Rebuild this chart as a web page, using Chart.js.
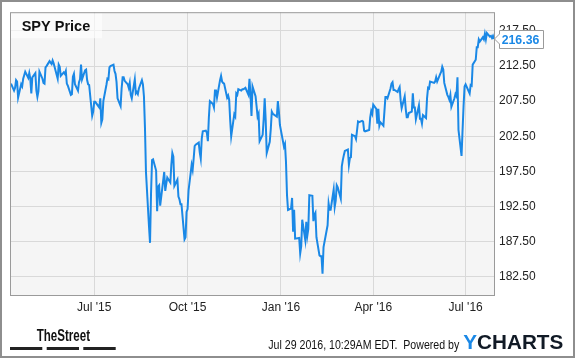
<!DOCTYPE html>
<html><head><meta charset="utf-8">
<script src="https://cdn.jsdelivr.net/npm/chart.js@4/dist/chart.umd.min.js"></script>
<style>html,body{margin:0;padding:0;background:#fff;}#wrap{width:575px;height:358px;position:relative;}canvas{display:block;}</style>
</head><body><div id="wrap"><canvas id="c" width="575" height="358"></canvas></div>
<script>
// ---------- data ----------
const chartTitle = 'SPY Price';
const months = ['2015-04','2015-05','2015-06','2015-07','2015-08','2015-09','2015-10','2015-11','2015-12',
                '2016-01','2016-02','2016-03','2016-04','2016-05','2016-06','2016-07'];
const tradingDays = [
  [10,13,14,15,16,17,20,21,22,23,24,27,28,29,30],
  [1,4,5,6,7,8,11,12,13,14,15,18,19,20,21,22,26,27,28,29],
  [1,2,3,4,5,8,9,10,11,12,15,16,17,18,19,22,23,24,25,26,29,30],
  [1,2,6,7,8,9,10,13,14,15,16,17,20,21,22,23,24,27,28,29,30,31],
  [3,4,5,6,7,10,11,12,13,14,17,18,19,20,21,24,25,26,27,28,31],
  [1,2,3,4,8,9,10,11,14,15,16,17,18,21,22,23,24,25,28,29,30],
  [1,2,5,6,7,8,9,12,13,14,15,16,19,20,21,22,23,26,27,28,29,30],
  [2,3,4,5,6,9,10,11,12,13,16,17,18,19,20,23,24,25,27,30],
  [1,2,3,4,7,8,9,10,11,14,15,16,17,18,21,22,23,24,28,29,30,31],
  [4,5,6,7,8,11,12,13,14,15,19,20,21,22,25,26,27,28,29],
  [1,2,3,4,5,8,9,10,11,12,16,17,18,19,22,23,24,25,26,29],
  [1,2,3,4,7,8,9,10,11,14,15,16,17,18,21,22,23,24,28,29,30,31],
  [1,4,5,6,7,8,11,12,13,14,15,18,19,20,21,22,25,26,27,28,29],
  [2,3,4,5,6,9,10,11,12,13,16,17,18,19,20,23,24,25,26,27,31],
  [1,2,3,6,7,8,9,10,13,14,15,16,17,20,21,22,23,24,27,28,29,30],
  [1,5,6,7,8,11,12,13,14,15,18,19,20,21,22,25,26,27,28,29]
];
const closes = [
  [210.0,209.0,209.4,210.5,210.3,208.0,209.9,209.6,210.7,211.2,211.7,210.8,211.5,210.7,208.6],
  [210.9,211.5,209.0,208.1,208.9,211.7,210.7,210.1,210.0,212.3,212.5,213.2,213.0,212.8,213.3,212.9,210.7,212.7,212.4,211.1],
  [211.6,211.4,211.8,210.0,209.7,208.4,208.5,211.0,211.4,209.9,209.0,210.2,210.6,212.7,210.6,211.9,212.0,210.5,209.9,209.8,205.4,206.0],
  [207.4,207.4,206.6,207.9,204.4,204.9,207.5,209.8,210.7,210.6,212.3,212.5,212.7,211.8,211.4,210.2,207.9,206.8,209.3,210.9,210.9,210.4],
  [209.9,209.4,210.1,208.4,207.9,210.6,208.6,208.8,208.5,209.3,210.5,209.9,208.2,203.8,197.4,189.6,187.3,194.4,199.1,199.2,197.6],
  [191.8,195.3,195.5,192.6,197.4,194.7,195.7,196.6,195.9,198.4,200.1,199.6,195.4,196.3,193.9,193.5,192.8,192.8,187.8,188.1,191.7],
  [192.1,194.8,198.4,197.7,199.3,201.1,201.3,201.6,200.2,199.3,202.2,203.2,203.3,203.0,201.8,205.2,207.5,207.1,206.6,209.0,209.0,208.0],
  [210.5,211.1,210.3,210.1,210.0,208.0,208.3,207.7,204.8,202.5,205.6,205.3,208.6,208.4,209.2,209.0,209.2,209.2,209.4,208.4],
  [210.7,208.4,205.4,209.6,208.2,206.8,205.3,205.7,201.8,202.7,204.9,207.9,204.8,200.1,201.7,203.5,206.0,205.7,205.3,207.5,206.0,204.1],
  [201.0,201.4,198.8,194.1,192.0,192.2,193.7,188.9,192.0,187.9,188.0,185.8,186.8,190.6,187.7,190.3,188.3,189.3,194.1],
  [194.0,190.4,191.3,191.6,188.1,185.5,185.4,185.4,182.9,186.7,189.8,192.9,192.0,192.0,194.9,192.4,193.3,195.5,195.2,193.6],
  [198.2,199.1,199.8,200.4,200.6,198.4,199.4,199.5,202.7,202.5,202.1,203.3,204.6,204.5,204.7,204.6,203.3,203.2,203.4,205.2,206.1,205.7],
  [207.0,206.4,204.3,206.4,204.0,204.5,204.0,206.0,208.1,208.1,207.9,209.3,210.0,210.2,209.1,209.1,208.8,209.2,209.5,207.6,206.5],
  [208.2,206.4,205.2,205.2,205.8,206.0,208.6,206.6,206.6,204.9,206.9,205.0,205.0,204.3,205.5,205.1,207.9,209.4,209.3,210.3,210.1],
  [210.3,210.9,210.3,211.4,211.7,212.4,212.0,210.1,208.4,208.1,207.7,208.4,206.7,207.9,208.5,208.2,210.9,203.4,199.7,203.3,206.8,209.6],
  [209.9,208.6,209.8,209.7,212.7,213.4,215.2,215.2,216.3,216.0,216.6,216.3,217.1,216.3,217.2,216.7,216.8,216.5,216.8,216.36]
];
const xTickDates = ['2015-07-01','2015-10-01','2016-01-01','2016-04-01','2016-07-01'];
const xTickLabels = ["Jul '15","Oct '15","Jan '16","Apr '16","Jul '16"];
const yTickValues = [182.5,187.5,192.5,197.5,202.5,207.5,212.5,217.5];
const lastValueLabel = '216.36';
const stampText = 'Jul 29 2016, 10:29AM EDT.  Powered by';
const brandLeft = 'TheStreet';
const brandRightA = 'Y';
const brandRightB = 'CHARTS';

// ---------- build ----------
const DAY0 = Date.UTC(2015,3,10);
function dayIndex(s){const p=s.split('-').map(Number);return (Date.UTC(p[0],p[1]-1,p[2])-DAY0)/86400000;}
const points=[];
months.forEach((mo,i)=>{tradingDays[i].forEach((d,j)=>{points.push({x:dayIndex(mo+'-'+String(d).padStart(2,'0')),y:closes[i][j]});});});
const xTickPos = xTickDates.map(dayIndex);
const BLUE = '#1a88e6';
const FONT = '"Liberation Sans", Arial, Helvetica, sans-serif';

function fitText(ctx, txt, x, y, w){
  const m = ctx.measureText(txt).width; const s = w/m;
  ctx.save(); ctx.translate(x,y); ctx.scale(s,1); ctx.fillText(txt,0,0); ctx.restore();
}

const deco = {
  id:'deco',
  beforeDraw(chart){
    const {ctx, chartArea:a} = chart;
    ctx.save();
    ctx.fillStyle='#fff'; ctx.fillRect(0,0,chart.width,chart.height);
    ctx.fillStyle='#f5f5f5'; ctx.fillRect(a.left,a.top,a.right-a.left,a.bottom-a.top);
    ctx.restore();
  },
  beforeDatasetsDraw(chart){
    const {ctx, chartArea:a} = chart;
    ctx.save();
    ctx.fillStyle='rgba(255,255,255,0.6)';
    ctx.fillRect(a.left+1,a.top+1,91,25);
    ctx.fillStyle='#111'; ctx.font='bold 14.5px '+FONT; ctx.textBaseline='alphabetic';
    ctx.fillText(chartTitle, a.left+11.7, a.top+18.7);
    ctx.restore();
  },
  afterDatasetsDraw(chart){
    const {ctx, chartArea:a} = chart;
    ctx.save();
    ctx.strokeStyle='#9a9a9a'; ctx.lineWidth=1;
    ctx.strokeRect(a.left+0.5,a.top+0.5,a.right-a.left,a.bottom-a.top-1);
    ctx.restore();
  },
  afterDraw(chart){
    const {ctx, chartArea:a} = chart;
    const ys = chart.scales.y;
    const last = points[points.length-1];
    const py = ys.getPixelForValue(last.y);
    ctx.save();
    // value flag
    const bx=499.5, bw=44, bh=18, by=Math.round(py-bh/2)+0.5;
    ctx.beginPath();
    ctx.moveTo(a.right+0.5,py); ctx.lineTo(bx,py-5); ctx.lineTo(bx,by); ctx.lineTo(bx+bw,by);
    ctx.lineTo(bx+bw,by+bh); ctx.lineTo(bx,by+bh); ctx.lineTo(bx,py+5); ctx.closePath();
    ctx.fillStyle='#fff'; ctx.fill(); ctx.strokeStyle='#9a9a9a'; ctx.lineWidth=1; ctx.stroke();
    ctx.fillStyle=BLUE; ctx.font='bold 13px '+FONT; ctx.textBaseline='alphabetic';
    fitText(ctx, lastValueLabel, bx+2.2, by+13.8, 37.6);
    // footer left
    ctx.fillStyle='#111'; ctx.font='bold 16.8px '+FONT;
    fitText(ctx, brandLeft, 36.7, 341, 53.3);
    ctx.fillStyle='#222';
    ctx.fillRect(10,347,32.3,3); ctx.fillRect(46.7,347,32.3,3); ctx.fillRect(83.3,347,32.4,3);
    // footer right
    ctx.fillStyle='#111'; ctx.font='12.8px '+FONT;
    fitText(ctx, stampText, 268.3, 349.3, 191);
    ctx.font='bold 19.5px '+FONT;
    const wA = ctx.measureText(brandRightA).width, wB = ctx.measureText(brandRightB).width;
    const s = 100/(wA+wB);
    ctx.fillStyle=BLUE; fitText(ctx, brandRightA, 463.3, 349.3, wA*s);
    ctx.fillStyle='#111a26'; fitText(ctx, brandRightB, 463.3+wA*s, 349.3, wB*s);
    // outer border
    ctx.strokeStyle='#8e8e8e'; ctx.lineWidth=2;
    ctx.strokeRect(1,1,chart.width-2,chart.height-2);
    ctx.restore();
  }
};

new Chart(document.getElementById('c'), {
  type:'line',
  data:{datasets:[{data:points,borderColor:BLUE,borderWidth:2,pointRadius:0,tension:0,fill:false}]},
  options:{
    responsive:false, animation:false, devicePixelRatio:1,
    layout:{padding:{left:10,top:10,right:0,bottom:0}},
    plugins:{legend:{display:false},tooltip:{enabled:false},title:{display:false}},
    scales:{
      x:{type:'linear',min:-1,max:476,
        afterFit(s){s.height=62;},
        afterBuildTicks(s){s.ticks=xTickPos.map(v=>({value:v}));},
        grid:{color:'#d9d9d9',drawTicks:false,lineWidth:1},
        border:{display:false},
        ticks:{autoSkip:false,maxRotation:0,padding:4,color:'#222',font:{family:FONT,size:12},
          callback:(v,i)=>xTickLabels[i]}
      },
      y:{type:'linear',position:'right',min:179.72,max:220.18,
        afterFit(s){s.width=81;},
        afterBuildTicks(s){s.ticks=yTickValues.map(v=>({value:v}));},
        grid:{color:'#d9d9d9',drawTicks:false,lineWidth:1},
        border:{display:false},
        ticks:{padding:5,color:'#222',font:{family:FONT,size:12},callback:(v)=>Number(v).toFixed(2)}
      }
    }
  },
  plugins:[deco]
});
</script></body></html>
